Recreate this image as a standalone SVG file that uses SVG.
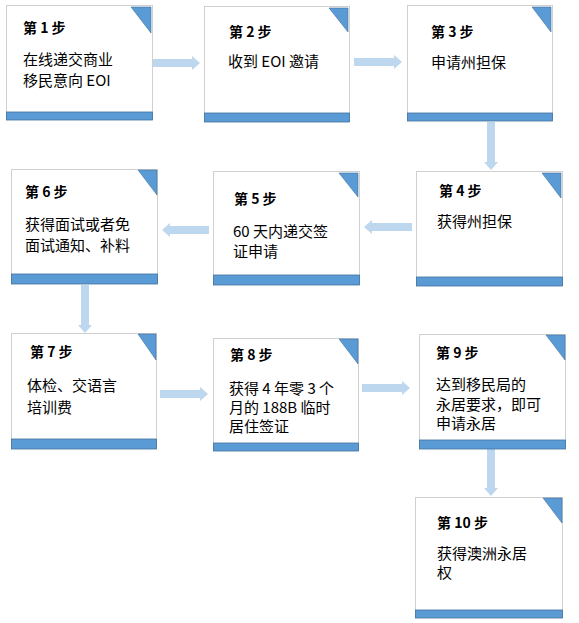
<svg xmlns="http://www.w3.org/2000/svg" width="579" height="623" viewBox="0 0 579 623">
<style>
.box{fill:#ffffff;stroke:#d0d0d0;stroke-width:1}
.bar{fill:#5b9bd5;stroke:#41719c;stroke-width:0.8}
.tri{fill:#5b9bd5;stroke:#41719c;stroke-width:0.6}
.arr{fill:#bdd7ee;stroke:none}
.t{font-family:"Noto Sans CJK SC","Liberation Sans",sans-serif;font-size:14px;font-weight:bold;fill:#000}
.b{font-family:"Noto Sans CJK SC","Liberation Sans",sans-serif;font-size:15px;fill:#000}
</style>
<rect width="579" height="623" fill="#ffffff"/>
<g id="connectors">
<polygon class="arr" points="152,59 192,59 192,56 200,63 192,70 192,67 152,67"/>
<polygon class="arr" points="354,58 394,58 394,55 402,62 394,69 394,66 354,66"/>
<polygon class="arr" points="487,122 495,122 495,162 498,162 491,170 484,162 487,162"/>
<polygon class="arr" points="412,223 372,223 372,220 364,227 372,234 372,231 412,231"/>
<polygon class="arr" points="209,226 170,226 170,223 162,230 170,237 170,234 209,234"/>
<polygon class="arr" points="81,285 89,285 89,325 92,325 85,333 78,325 81,325"/>
<polygon class="arr" points="160,390 200,390 200,387 208,394 200,401 200,398 160,398"/>
<polygon class="arr" points="362,384 402,384 402,381 410,388 402,395 402,392 362,392"/>
<polygon class="arr" points="487,449 495,449 495,488 498,488 491,496 484,488 487,488"/>
</g>
<g id="node1">
<rect class="box" x="6.5" y="5.5" width="146" height="114"/>
<rect class="bar" x="6.5" y="112" width="146" height="8"/>
<polygon class="tri" points="131,7 151,7 151,33"/>
<text class="t" x="23" y="33">第 1 步</text>
<text class="b" x="23" y="65">在线递交商业</text>
<text class="b" x="23" y="86">移民意向 EOI</text>
</g>
<g id="node2">
<rect class="box" x="204.5" y="6.5" width="145" height="115"/>
<rect class="bar" x="204.5" y="113" width="145" height="9"/>
<polygon class="tri" points="329,8 348,8 348,32"/>
<text class="t" x="229" y="37">第 2 步</text>
<text class="b" x="228" y="67">收到 EOI 邀请</text>
</g>
<g id="node3">
<rect class="box" x="407.5" y="5.5" width="145" height="115"/>
<rect class="bar" x="407.5" y="113" width="145" height="8"/>
<polygon class="tri" points="532,7 551,7 551,32"/>
<text class="t" x="431" y="37">第 3 步</text>
<text class="b" x="431" y="68">申请州担保</text>
</g>
<g id="node4">
<rect class="box" x="416.5" y="171.5" width="146" height="114"/>
<rect class="bar" x="416.5" y="277" width="146" height="9"/>
<polygon class="tri" points="542,173 561,173 561,198"/>
<text class="t" x="439" y="196">第 4 步</text>
<text class="b" x="437" y="227">获得州担保</text>
</g>
<g id="node5">
<rect class="box" x="213.5" y="171.5" width="146" height="113"/>
<rect class="bar" x="213.5" y="275" width="146" height="10"/>
<polygon class="tri" points="339,173 358,173 358,197"/>
<text class="t" x="234" y="204">第 5 步</text>
<text class="b" x="233" y="237">60 天内递交签</text>
<text class="b" x="233" y="257">证申请</text>
</g>
<g id="node6">
<rect class="box" x="11.5" y="169.5" width="146" height="114"/>
<rect class="bar" x="11.5" y="274" width="146" height="10"/>
<polygon class="tri" points="138,170 157,170 157,195"/>
<text class="t" x="25" y="197">第 6 步</text>
<text class="b" x="25" y="230">获得面试或者免</text>
<text class="b" x="25" y="251">面试通知、补料</text>
</g>
<g id="node7">
<rect class="box" x="11.5" y="333.5" width="145" height="115"/>
<rect class="bar" x="11.5" y="439" width="145" height="10"/>
<polygon class="tri" points="138,334 156,334 156,360"/>
<text class="t" x="30" y="357">第 7 步</text>
<text class="b" x="27" y="391">体检、交语言</text>
<text class="b" x="27" y="413">培训费</text>
</g>
<g id="node8">
<rect class="box" x="213.5" y="338.5" width="145" height="112"/>
<rect class="bar" x="213.5" y="443" width="145" height="8"/>
<polygon class="tri" points="339,339 358,339 358,364"/>
<text class="t" x="230" y="360">第 8 步</text>
<text class="b" x="229" y="394">获得 4 年零 3 个</text>
<text class="b" x="229" y="413">月的 188B 临时</text>
<text class="b" x="229" y="432">居住签证</text>
</g>
<g id="node9">
<rect class="box" x="419.5" y="334.5" width="146" height="114"/>
<rect class="bar" x="419.5" y="440" width="146" height="9"/>
<polygon class="tri" points="546,335 565,335 565,360"/>
<text class="t" x="436" y="358">第 9 步</text>
<text class="b" x="436" y="390">达到移民局的</text>
<text class="b" x="436" y="410">永居要求，即可</text>
<text class="b" x="436" y="429">申请永居</text>
</g>
<g id="node10">
<rect class="box" x="415.5" y="497.5" width="147" height="120"/>
<rect class="bar" x="415.5" y="610" width="147" height="8"/>
<polygon class="tri" points="543,498 562,498 562,523"/>
<text class="t" x="437" y="528">第 10 步</text>
<text class="b" x="437" y="559">获得澳洲永居</text>
<text class="b" x="437" y="578">权</text>
</g>
</svg>
